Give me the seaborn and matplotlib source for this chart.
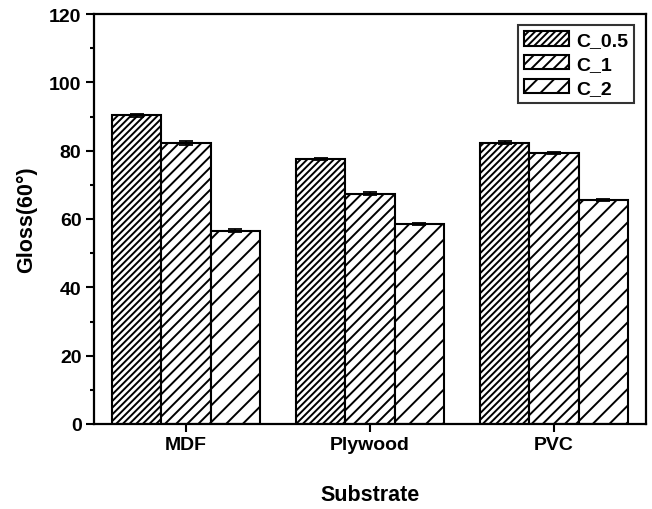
import matplotlib
matplotlib.use("Agg")
import matplotlib.pyplot as plt
import seaborn as sns
import pandas as pd
import numpy as np
from matplotlib.ticker import MultipleLocator

substrates = ["MDF", "Plywood", "PVC"]
series = ["C_0.5", "C_1", "C_2"]
c05 = [90.3, 77.5, 82.3]
c1 = [82.3, 67.4, 79.3]
c2 = [56.6, 58.5, 65.5]
err05 = [0.5, 0.3, 0.4]
err1 = [0.5, 0.4, 0.3]
err2 = [0.5, 0.3, 0.3]
hatches = ["/////", "///", "//"]

rows = []
for s, vals, errs in zip(series, [c05, c1, c2], [err05, err1, err2]):
    for sub, v, e in zip(substrates, vals, errs):
        rows.append({"Substrate": sub, "Series": s, "Gloss": v, "Err": e})
df = pd.DataFrame(rows)

sns.set_style("ticks")
plt.rcParams["font.family"] = ["Liberation Sans", "DejaVu Sans"]
plt.rcParams["font.weight"] = "bold"
plt.rcParams["hatch.linewidth"] = 1.4
plt.rcParams["hatch.color"] = "black"
for k in ["text.color", "axes.labelcolor", "xtick.color", "ytick.color", "axes.edgecolor"]:
    plt.rcParams[k] = "black"

fig = plt.figure(figsize=(6.52, 5.10), dpi=100)
ax = fig.add_axes([94/652, 85/510, (646-94)/652, (425-15)/510])

sns.barplot(data=df, x="Substrate", y="Gloss", hue="Series", order=substrates,
            hue_order=series, errorbar=None, color="white", saturation=1,
            edgecolor="black", linewidth=1.5, width=0.8, ax=ax, legend=True)

# apply hatches and error bars
for i, (container, s) in enumerate(zip(ax.containers, series)):
    sub_df = df[df["Series"] == s].set_index("Substrate").loc[substrates]
    xs = []
    for patch in container.patches:
        patch.set_hatch(hatches[i])
        patch.set_facecolor("white")
        patch.set_edgecolor("black")
        xs.append(patch.get_x() + patch.get_width() / 2)
    ax.errorbar(xs, sub_df["Gloss"].values, yerr=sub_df["Err"].values, fmt="none",
                ecolor="black", elinewidth=1.3, capsize=5, capthick=1.3, zorder=5)

ax.set_ylim(0, 120)
ax.set_xlim(-0.5, 2.5)
ax.yaxis.set_major_locator(MultipleLocator(20))
ax.yaxis.set_minor_locator(MultipleLocator(10))
ax.tick_params(axis="both", which="major", length=6, width=1.5, direction="out",
               labelsize=14, pad=3, colors="black")
ax.tick_params(axis="y", which="minor", length=3, width=1.5, direction="out")
for lab in ax.get_xticklabels() + ax.get_yticklabels():
    lab.set_fontweight("bold")
for sp in ax.spines.values():
    sp.set_visible(True)
    sp.set_linewidth(1.6)
    sp.set_color("black")

ax.set_xlabel("Substrate", fontsize=15.5, fontweight="bold", labelpad=22, color="black")
ax.set_ylabel("Gloss(60°)", fontsize=15.5, fontweight="bold", labelpad=9, color="black")

handles, labels = ax.get_legend_handles_labels()
for h, hh in zip(handles, hatches):
    h.set_hatch(hh)
    h.set_facecolor("white")
    h.set_edgecolor("black")
leg = ax.legend(handles, labels, loc="upper right", bbox_to_anchor=(0.978, 0.972),
                frameon=True, fancybox=False, prop={"weight": "bold", "size": 14},
                handlelength=2.35, handleheight=0.75, labelspacing=0.3,
                handletextpad=0.35, borderpad=0.3, borderaxespad=0)
leg.get_frame().set_edgecolor("black")
leg.get_frame().set_linewidth(1.5)
for t in leg.get_texts():
    t.set_color("black")

fig.savefig("out.png", dpi=100)
